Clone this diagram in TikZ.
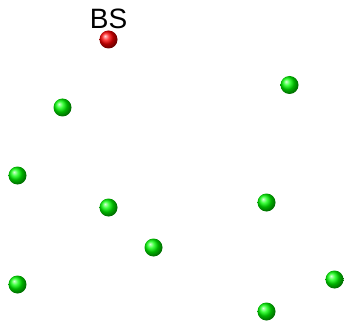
\documentclass[tikz,border=0pt]{standalone}
\usepackage{fontspec}
\setmainfont{Liberation Sans}
\begin{document}
\begin{tikzpicture}[x=1pt,y=-1pt,
  greenball/.style={circle,minimum size=18pt,inner sep=0pt,shading=ball,ball color=green},
  redball/.style={circle,minimum size=18pt,inner sep=0pt,shading=ball,ball color=red},
  lbl/.style={font=\fontsize{28}{30}\selectfont,inner sep=0pt,anchor=base}]
\useasboundingbox (0,0) rectangle (344,320);
\node[redball] (bs) at (108.5,39.5) {};
\node[lbl] (bslabel) at (108.5,28.5) {BS};
\node[greenball] (n1) at (62.5,107.5) {};
\node[greenball] (n2) at (289.5,85) {};
\node[greenball] (n3) at (17.5,175.5) {};
\node[greenball] (n4) at (108.5,207.5) {};
\node[greenball] (n5) at (266.5,202.5) {};
\node[greenball] (n6) at (153.5,247.5) {};
\node[greenball] (n7) at (17.5,284.5) {};
\node[greenball] (n8) at (334.5,279.5) {};
\node[greenball] (n9) at (266.5,311.5) {};
\end{tikzpicture}
\end{document}
